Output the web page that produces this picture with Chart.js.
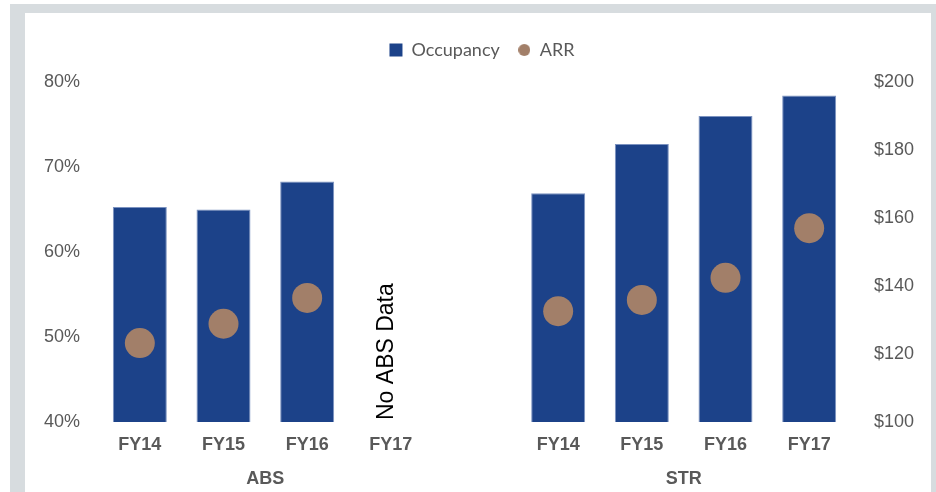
<!DOCTYPE html>
<html>
<head>
<meta charset="utf-8">
<script src="https://cdn.jsdelivr.net/npm/chart.js@4.4.1/dist/chart.umd.min.js"></script>
<style>
  body { margin: 0; background: #fff; }
  #frame {
    position: absolute; left: 10px; top: 4px; width: 906px; height: 500px;
    border-style: solid; border-color: #d7dcdf; border-width: 9px 5px 0 15px;
    background: #fff;
  }
  #wrap { position: absolute; left: 0; top: 0; width: 936px; height: 492px; }
</style>
</head>
<body>
<div id="frame"></div>
<div id="wrap"><canvas id="Grafico" width="936" height="492"></canvas></div>
<script>
// categories (empty slot separates the two sources)
var categories = ["FY14", "FY15", "FY16", "FY17", "", "FY14", "FY15", "FY16", "FY17"];
var occupancy = [65.3, 65.0, 68.3, null, null, 66.9, 72.7, 76.0, 78.4];
var arr = [123.2, 128.9, 136.5, null, null, 132.6, 135.9, 142.4, 157.0];
var groupNames = ["ABS", "STR"];
var groupStart = [0, 5];
var groupEnd = [3, 8];
var noteText = "No ABS Data";
var noteIndex = 3;

var tickColor = "#595959";
var barColor = "#1c4289";
var dotColor = "#a27f69";

// small round marker for the ARR legend entry
var dot = document.createElement("canvas");
dot.width = 12;
dot.height = 12;
var dctx = dot.getContext("2d");
dctx.fillStyle = dotColor;
dctx.beginPath();
dctx.arc(6, 6, 6, 0, Math.PI * 2);
dctx.fill();

var groupPlugin = {
  id: "groups",
  afterInit: function (chart) {
    var fit = chart.legend.fit;
    chart.legend.fit = function () {
      fit.call(this);
      this.height += 13;
    };
  },
  afterDraw: function (chart) {
    var ctx = chart.ctx;
    var x = chart.scales.x;
    var area = chart.chartArea;
    ctx.save();
    ctx.fillStyle = tickColor;
    ctx.font = "bold 18px 'Liberation Sans', Arial, sans-serif";
    ctx.textAlign = "center";
    ctx.textBaseline = "middle";
    for (var i = 0; i < groupNames.length; i++) {
      var cx = (x.getPixelForValue(groupStart[i]) + x.getPixelForValue(groupEnd[i])) / 2;
      ctx.fillText(groupNames[i], cx, area.bottom + 57);
    }
    // vertical note for the missing year
    ctx.fillStyle = "#000";
    ctx.font = "23px 'Liberation Sans', Arial, sans-serif";
    ctx.textAlign = "left";
    ctx.translate(x.getPixelForValue(noteIndex) - 4, area.bottom - 2);
    ctx.rotate(-Math.PI / 2);
    ctx.fillText(noteText, 0, 0);
    ctx.restore();
  }
};

document.addEventListener('DOMContentLoaded', function () {
    let canva = document.getElementById("Grafico").getContext("2d");
    var chart = new Chart(canva, {
      type: "bar",
      data: {
        labels: categories,
        datasets: [
          {
            label: "Occupancy",
            data: occupancy,
            backgroundColor: barColor,
            borderColor: "#7b92c0",
            borderWidth: 1,
            categoryPercentage: 1,
            barPercentage: 0.645,
            yAxisID: "y",
            order: 2
          },
          {
            type: "line",
            label: "ARR",
            data: arr,
            showLine: false,
            pointRadius: 15,
            pointHoverRadius: 15,
            pointBackgroundColor: dotColor,
            pointBorderWidth: 0,
            backgroundColor: dotColor,
            borderColor: dotColor,
            yAxisID: "y1",
            order: 1
          }
        ]
      },
      options: {
        responsive: false,
        animation: false,
        layout: { padding: { top: 23, left: 28, right: 0, bottom: 0 } },
        plugins: {
          tooltip: { enabled: false },
          legend: {
            position: "top",
            labels: {
              color: tickColor,
              font: { family: "Lato, sans-serif", size: 18 },
              usePointStyle: true,
              boxWidth: 13,
              boxHeight: 13,
              padding: 18,
              sort: function (a, b) { return a.datasetIndex - b.datasetIndex; },
              generateLabels: function (chart) {
                var items = Chart.defaults.plugins.legend.labels.generateLabels(chart);
                items.forEach(function (it) {
                  it.pointStyle = it.datasetIndex === 0 ? "rect" : dot;
                  it.lineWidth = 0;
                });
                return items;
              }
            }
          }
        },
        scales: {
          x: {
            grid: { display: false, drawTicks: false },
            border: { display: false },
            ticks: {
              color: tickColor,
              padding: 12,
              font: { family: "'Liberation Sans', Arial, sans-serif", size: 18, weight: "bold" }
            },
            afterFit: function (s) { s.height = 70; }
          },
          y: {
            position: "left",
            min: 40,
            max: 80,
            grid: { display: false, drawTicks: false },
            border: { display: false },
            ticks: {
              stepSize: 10,
              color: tickColor,
              padding: 18,
              font: { family: "'Liberation Sans', Arial, sans-serif", size: 18 },
              callback: function (v) { return v + "%"; }
            },
            afterFit: function (s) { s.width = 70; }
          },
          y1: {
            position: "right",
            min: 100,
            max: 200,
            grid: { display: false, drawTicks: false },
            border: { display: false },
            ticks: {
              stepSize: 20,
              color: tickColor,
              padding: 23,
              font: { family: "'Liberation Sans', Arial, sans-serif", size: 18 },
              callback: function (v) { return "$" + v; }
            },
            afterFit: function (s) { s.width = 85; }
          }
        }
      },
      plugins: [groupPlugin]
    });
});
</script>
</body>
</html>
